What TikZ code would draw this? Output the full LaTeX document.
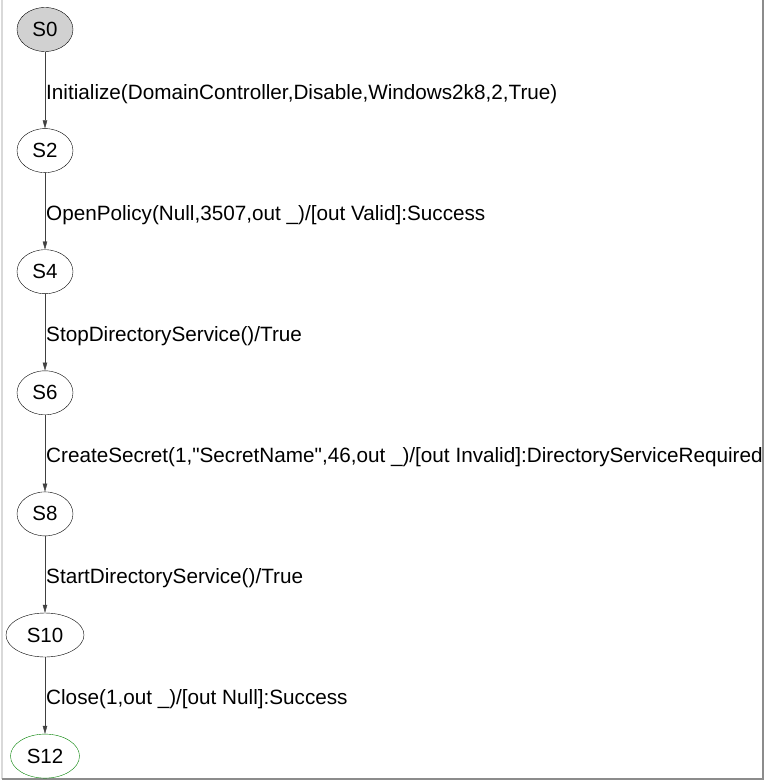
\documentclass[tikz,border=0pt]{standalone}
\usepackage{fontspec}
\setmainfont{Liberation Sans}
\usetikzlibrary{arrows.meta,positioning,shapes.geometric}

\begin{document}
\begin{tikzpicture}[
      state/.style={
         ellipse,
         draw=black,
         inner sep=0pt,
         minimum width=56pt,
         minimum height=44pt,
         font=\fontsize{20.5}{22}\selectfont},
      trans/.style={-{Triangle[length=8pt,width=4.5pt]}, draw=black!75},
      lbl/.style={anchor=west, inner sep=1pt, yshift=-4pt, font=\fontsize{20.7}{22}\selectfont},
      node distance=76.7pt
      ]
      \useasboundingbox (0,0) rectangle (765pt,-781pt);
      % frame
      \draw[black!15, line width=1.5pt] (2pt,0) -- (2pt,-779pt);
      \draw[black!45, line width=1.5pt] (2pt,-779pt) -- (763pt,-779pt) -- (763pt,0);

      \node[state,fill=black!18] (s0) at (45pt,-29.5pt) {S0};
      \node[state,below=of s0] (s2) {S2};
      \node[state,below=of s2] (s4) {S4};
      \node[state,below=of s4] (s6) {S6};
      \node[state,below=of s6] (s8) {S8};
      \node[state,below=of s8,minimum width=78pt] (s10) {S10};
      \node[state,below=of s10,minimum width=69pt,draw=green!50!black] (s12) {S12};

    \foreach \i/\j/\txt in {% start node/end node/text
      s0/s2/{Initialize(DomainController,Disable,Windows2k8,2,True)},
      s2/s4/{OpenPolicy(Null,3507,out \_)/[out Valid]:Success},
      s4/s6/{StopDirectoryService()/True},
      s6/s8/{CreateSecret(1,\textquotedbl SecretName\textquotedbl,46,out \_)/[out Invalid]:DirectoryServiceRequired},
      s8/s10/{StartDirectoryService()/True},
      s10/s12/{Close(1,out \_)/[out Null]:Success}}
       \draw [trans] (\i) -- node[lbl] {\txt} (\j);

\end{tikzpicture}
\end{document}
